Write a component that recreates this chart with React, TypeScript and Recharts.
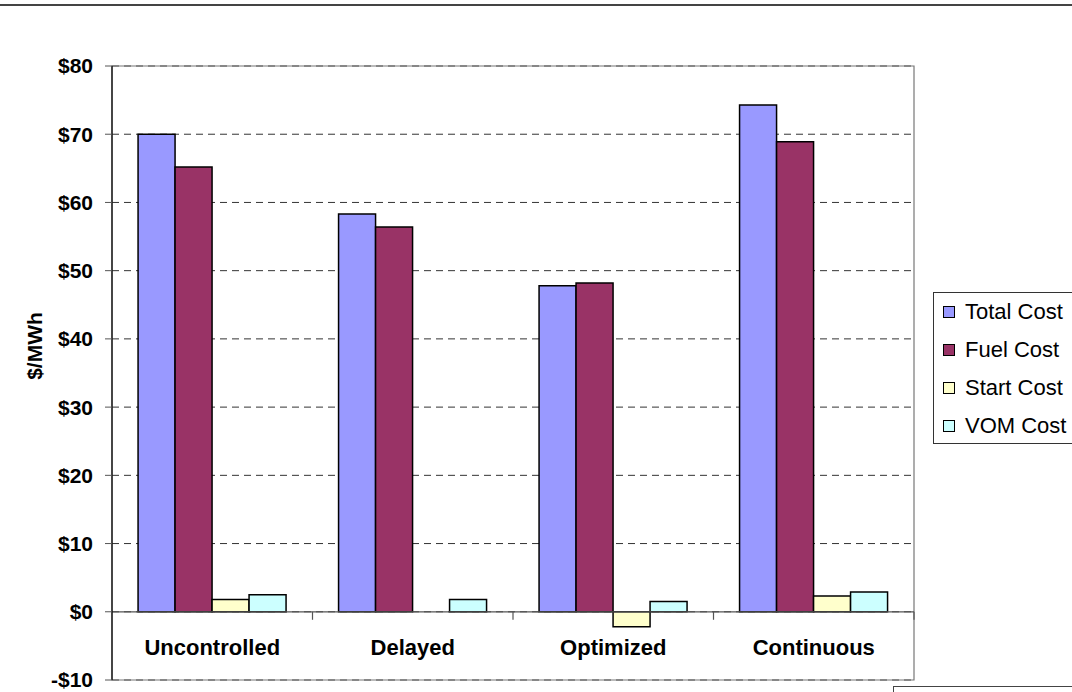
import { BarChart, Bar, XAxis, YAxis, CartesianGrid, Legend, ReferenceLine, ReferenceArea, Label } from 'recharts'

const CATEGORIES = ['Uncontrolled', 'Delayed', 'Optimized', 'Continuous']
const TOTAL_COST = [70.0, 58.3, 47.8, 74.3]
const FUEL_COST = [65.2, 56.4, 48.2, 68.9]
const START_COST = [1.8, 0, -2.2, 2.3]
const VOM_COST = [2.5, 1.8, 1.5, 2.9]
const Y_TICKS = [-10, 0, 10, 20, 30, 40, 50, 60, 70, 80]

const SERIES = [
  { key: 'Total Cost', color: '#9999ff' },
  { key: 'Fuel Cost', color: '#993366' },
  { key: 'Start Cost', color: '#ffffcc' },
  { key: 'VOM Cost', color: '#ccffff' },
]

const data = CATEGORIES.map((name, i) => ({
  name,
  'Total Cost': TOTAL_COST[i],
  'Fuel Cost': FUEL_COST[i],
  'Start Cost': START_COST[i],
  'VOM Cost': VOM_COST[i],
}))

const FONT = '"Liberation Sans", Arial, sans-serif'

function fmtDollar(v: number) {
  return v < 0 ? `-$${Math.abs(v)}` : `$${v}`
}

// x axis sits on the zero line, with ticks between categories
function ZeroAxis(props: any) {
  const { x1, y1, x2 } = props
  const band = (x2 - x1) / CATEGORIES.length
  return (
    <g>
      <line x1={x1} y1={y1} x2={x2} y2={y1} stroke="#555" strokeWidth={1.2} />
      {CATEGORIES.map((c, i) => (
        <g key={c}>
          <line x1={x1 + band * (i + 1)} y1={y1} x2={x1 + band * (i + 1)} y2={y1 + 8} stroke="#555" strokeWidth={1.2} />
          <text x={x1 + band * (i + 0.5)} y={y1 + 43} textAnchor="middle"
            style={{ fontFamily: FONT, fontWeight: 700, fontSize: 22, fill: '#000' }}>
            {c}
          </text>
        </g>
      ))}
    </g>
  )
}

// legend in series order (recharts sorts by name otherwise)
function LegendBox() {
  return (
    <div style={{
      border: '1.5px solid #333', borderRight: 'none', background: '#fff',
      height: 152, boxSizing: 'border-box', paddingTop: 0, paddingLeft: 9,
    }}>
      {SERIES.map((s) => (
        <div key={s.key} style={{ display: 'flex', alignItems: 'center', height: 38, fontFamily: FONT, fontSize: 22, color: '#000' }}>
          <span style={{ width: 10, height: 10, background: s.color, border: '1px solid #000', marginRight: 10, display: 'inline-block' }} />
          {s.key}
        </div>
      ))}
    </div>
  )
}

export default function App() {
  return (
    <div style={{ position: 'absolute', left: 0, top: 0, width: 1072, height: 692, overflow: 'hidden', background: '#fff' }}>
      <div style={{ position: 'absolute', left: 0, top: 4, width: 1072, height: 0, borderTop: '2px solid #444' }} />
      <div style={{ position: 'absolute', left: 893, top: 686, width: 200, height: 20, border: '1.5px solid #444' }} />
      <BarChart width={1072} height={692} data={data}
        margin={{ top: 66, right: 158, bottom: 12, left: 0 }}
        barCategoryGap="13%" barGap={0}>
        <CartesianGrid vertical={false} stroke="#333" strokeDasharray="7 5" />
        <XAxis dataKey="name" hide />
        <YAxis
          domain={[-10, 80]} ticks={Y_TICKS} interval={0} width={112}
          tickFormatter={fmtDollar} tickSize={7} tickMargin={12}
          axisLine={{ stroke: '#000', strokeWidth: 1.2 }} tickLine={{ stroke: '#555' }}
          tick={{ fontFamily: FONT, fontWeight: 700, fontSize: 21, fill: '#000' }}
        >
          <Label
            content={() => (
              <text x={42} y={346} transform="rotate(-90 42 346)" textAnchor="middle"
                style={{ fontFamily: FONT, fontWeight: 700, fontSize: 21, fill: '#000' }}>
                $/MWh
              </text>
            )}
          />
        </YAxis>
        <ReferenceArea y1={-10} y2={80} fill="none" stroke="#777" strokeWidth={1.2} ifOverflow="visible" />
        {SERIES.map((s) => (
          <Bar key={s.key} dataKey={s.key} fill={s.color} stroke="#000" strokeWidth={1.5} isAnimationActive={false} />
        ))}
        <ReferenceLine y={0} shape={ZeroAxis} ifOverflow="visible" />
        <Legend
          layout="vertical" align="center" verticalAlign="middle"
          content={<LegendBox />}
          wrapperStyle={{ position: 'absolute', left: 933, top: 292, width: 145 }}
        />
      </BarChart>
    </div>
  )
}
